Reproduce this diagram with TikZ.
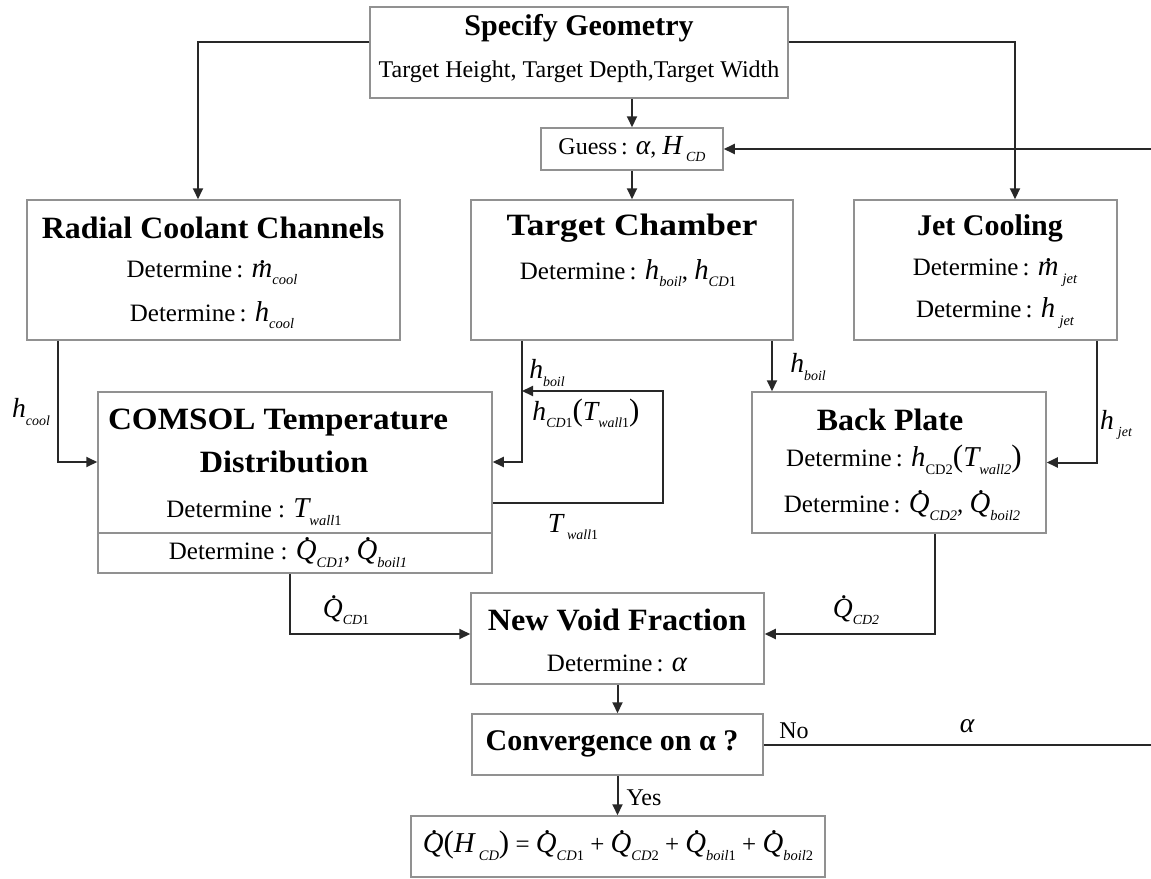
\documentclass[tikz,border=0pt]{standalone}
\usepackage{fontspec}
\setmainfont{Liberation Serif}
\usetikzlibrary{arrows.meta}
\definecolor{boxgray}{RGB}{145,145,145}
\definecolor{linegray}{RGB}{40,40,40}
\makeatletter
\newcommand\sbx[1]{\raisebox{-0.3em}{\fontsize{\strip@pt\dimexpr\f@size pt*58/100\relax}{2}\selectfont\itshape #1}}
\newcommand\V[1]{{\fontsize{\strip@pt\dimexpr\f@size pt*115/100\relax}{2}\selectfont\itshape #1}}
\makeatother
\newcommand\dotQ{\mbox{\V{\ooalign{Q\cr\hidewidth\kern0.12em\raisebox{0.68em}{.}\hidewidth\cr}}}}
\newcommand\dotm{\mbox{\V{\ooalign{m\cr\hidewidth\kern0.08em\raisebox{0.5em}{.}\hidewidth\cr}}}}
\newcommand\hv[1]{\V{h}\sbx{#1}}
\newcommand\bigp[1]{{\fontsize{31}{31}\selectfont #1}}
\begin{document}
\begin{tikzpicture}[x=1pt,y=-1pt,
  font=\fontsize{24}{28}\selectfont,
  box/.style={draw=boxgray, line width=1.5pt, inner sep=0pt, fill=white},
  conn/.style={line width=2pt, draw=linegray},
  arr/.style={conn, -{Triangle[length=11pt,width=10pt]}},
  ttl/.style={font=\fontsize{31}{34}\selectfont\bfseries, inner sep=0pt},
  txt/.style={inner sep=0pt, font=\fontsize{25}{28}\selectfont},
  lbl/.style={inner sep=0pt}]
\useasboundingbox (0,0) rectangle (1151,878);
% boxes
\node[box, minimum width=418pt, minimum height=91pt] (geo) at (579,52.5) {};
\node[box, minimum width=182pt, minimum height=42pt] (guess) at (632,149) {};
\node[box, minimum width=373pt, minimum height=140pt] (radial) at (213.5,270) {};
\node[box, minimum width=322pt, minimum height=140pt] (target) at (632,270) {};
\node[box, minimum width=263pt, minimum height=140pt] (jet) at (985.5,270) {};
\node[box, minimum width=394pt, minimum height=181pt] (comsol) at (295,482.5) {};
\node[box, minimum width=294pt, minimum height=141pt] (back) at (899,462.5) {};
\node[box, minimum width=293pt, minimum height=91pt] (nvf) at (617.5,638.5) {};
\node[box, minimum width=291pt, minimum height=61pt] (conv) at (617.5,744.5) {};
\node[box, minimum width=414pt, minimum height=61pt] (final) at (618,846.5) {};
\draw[draw=boxgray, line width=1.5pt] ([yshift=-50.5pt]comsol.west) -- ([yshift=-50.5pt]comsol.east);
% texts
\node[ttl, font=\fontsize{30}{34}\selectfont\bfseries] (geot) at (579,28) {Specify Geometry};
\node[txt, font=\fontsize{24}{28}\selectfont] (geos) at (579,72) {Target Height, Target Depth,Target Width};
\node[txt, font=\fontsize{24}{28}\selectfont] (guesst) at (632,149) {Guess\,: \V{α}, \V{H}\,\sbx{CD}};
\node[ttl] (radt) at (213,228) {\scalebox{1.03}[1]{Radial Coolant Channels}};
\node[txt] (rad1) at (212,273) {Determine\,: \dotm\sbx{cool}};
\node[txt] (rad2) at (212,315) {Determine\,: \hv{cool}};
\node[ttl] (tart) at (632,228) {\scalebox{1.14}[1]{Target Chamber}};
\node[txt] (tar1) at (628,273) {Determine\,: \hv{boil}, \hv{CD\upshape 1}};
\node[ttl, font=\fontsize{30}{34}\selectfont\bfseries] (jett) at (990,228) {Jet Cooling};
\node[txt] (jet1) at (995,273) {Determine\,: \dotm\,\sbx{jet}};
\node[txt] (jet2) at (995,313) {Determine\,: \V{h}\,\sbx{jet}};
\node[ttl] (comt1) at (278,423) {\scalebox{1.07}[1]{COMSOL Temperature}};
\node[ttl] (comt2) at (284,462) {\scalebox{1.04}[1]{Distribution}};
\node[txt] (com1) at (254,512) {Determine : \V{T}\sbx{wall\upshape 1}};
\node[txt] (com2) at (288,554) {Determine : \dotQ\sbx{CD1}, \dotQ\sbx{boil1}};
\node[ttl] (backt) at (890,420) {\scalebox{1.03}[1]{Back Plate}};
\node[txt] (back1) at (904,460) {Determine\,: \V{h}\sbx{\upshape CD2}\bigp{(}\V{T}\sbx{wall2}\bigp{)}};
\node[txt] (back2) at (902,507) {Determine\,: \dotQ\sbx{CD2}, \dotQ\sbx{boil2}};
\node[ttl] (nvft) at (617,620) {\scalebox{1.04}[1]{New Void Fraction}};
\node[txt] (nvf1) at (617,663) {Determine\,: \V{α}};
\node[ttl, font=\fontsize{30}{34}\selectfont\bfseries] (convt) at (612,744) {Convergence on α ?};
\node[txt] (finalt) at (618,846) {\dotQ\bigp{(}\V{H}\,\sbx{CD}\bigp{)} = \dotQ\sbx{CD\upshape 1} + \dotQ\sbx{CD\upshape 2} + \dotQ\sbx{boil\upshape 1} + \dotQ\sbx{boil\upshape 2}};
% connectors
\draw[arr] ([yshift=10.5pt]geo.west) -| ([xshift=-15.5pt]radial.north);
\draw[arr] ([yshift=10.5pt]geo.east) -| ([xshift=29.5pt]jet.north);
\draw[arr] (guess.north |- geo.south) -- (guess.north);
\draw[arr] (guess.south) -- (target.north);
\draw[arr] ([xshift=-155.5pt]radial.south) |- ([yshift=20.5pt]comsol.west);
\draw[arr] ([xshift=-110pt]target.south) |- ([yshift=20.5pt]comsol.east);
\coordinate (lp) at (663,391);
\coordinate (jn) at (522,391);
\draw[arr] ([yshift=-20.5pt]comsol.east) -| (lp) -- (jn);
\draw[arr] ([xshift=140pt]target.south) -- ([xshift=140pt]target.south |- back.north);
\draw[arr] ([xshift=111.5pt]jet.south) |- (back.east);
\draw[arr] ([xshift=-5pt]comsol.south) |- ([yshift=4.5pt]nvf.west);
\draw[arr] ([xshift=36pt]back.south) |- ([yshift=4.5pt]nvf.east);
\draw[arr] (nvf.south) -- (nvf.south |- conv.north);
\draw[arr] (conv.south) -- (conv.south |- final.north);
\coordinate (rt) at (1153,149);
\draw[arr] (conv.east) -| (rt) -- (guess.east);
% labels
\node[lbl] (lcool) at (31,412) {\hv{cool}};
\node[lbl] (lboil1) at (547,373) {\hv{boil}};
\node[lbl] (lhcd) at (586,413) {\hv{CD\upshape 1}\bigp{(}\V{T}\sbx{wall\upshape 1}\bigp{)}};
\node[lbl] (ltw) at (573,527) {\V{T}\,\sbx{wall\upshape 1}};
\node[lbl] (lboil2) at (808,367) {\hv{boil}};
\node[lbl] (ljet) at (1116,425) {\V{h}\,\sbx{jet}};
\node[lbl] (lq1) at (346,612) {\dotQ\sbx{CD\upshape 1}};
\node[lbl] (lq2) at (856,612) {\dotQ\sbx{CD2}};
\node[lbl] (lno) at (794,731) {No};
\node[lbl] (lal) at (967,726) {\V{α}};
\node[lbl] (lyes) at (644,798) {Yes};
\end{tikzpicture}
\end{document}
